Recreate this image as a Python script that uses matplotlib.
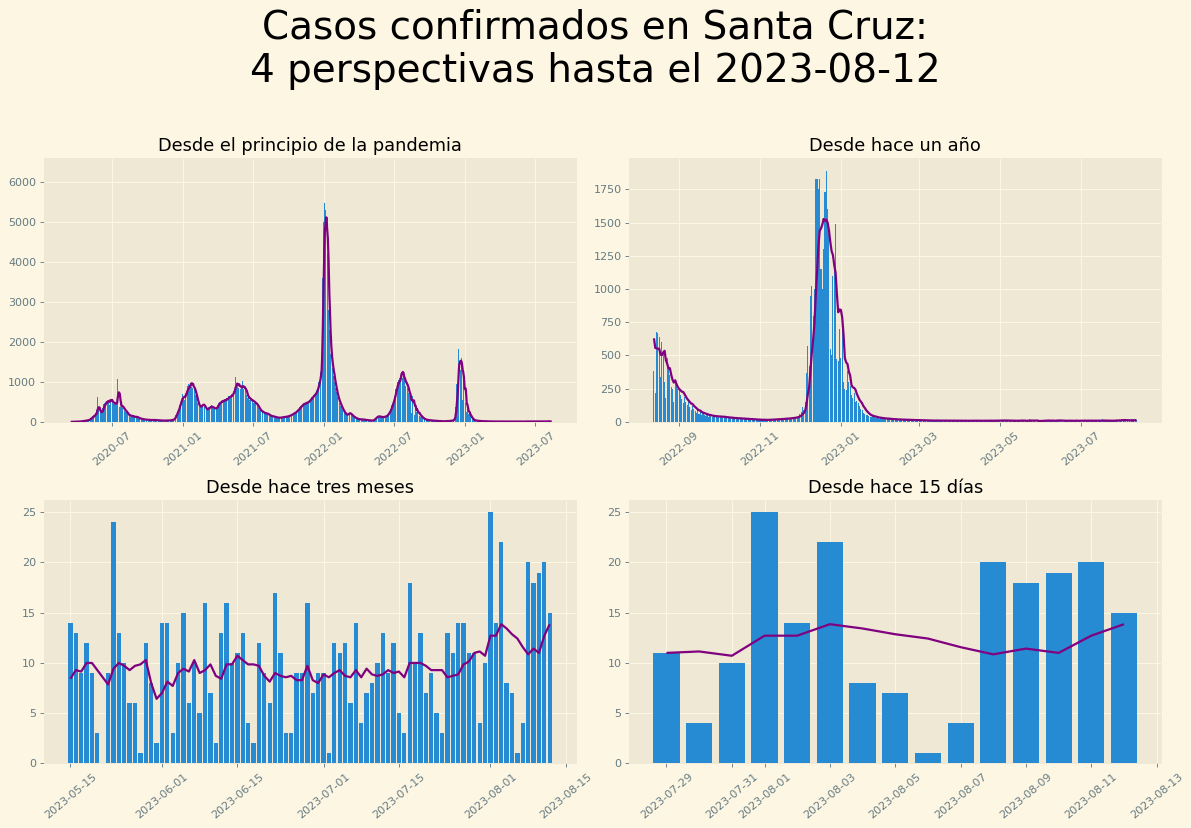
import pandas as pd
import matplotlib
matplotlib.use('Agg')
import matplotlib.pyplot as plt

plt.style.use('Solarize_Light2')

# daily confirmed cases, Santa Cruz, from 2020-03-10 to 2023-08-12
START = '2020-03-10'
END = '2023-08-12'

cases_2020 = [
    1, 0, 0, 0, 2, 0, 1, 3, 0, 2, 1, 4, 2, 3, 5, 2, 6, 4, 8, 5, 3, 7,  # mar
    6, 9, 5, 12, 8, 10, 14, 7, 11, 15, 18, 9, 20, 16, 22, 25, 14, 28, 30, 19,
    26, 35, 32, 24, 38, 42, 30, 45, 50, 36,  # apr
    50, 65, 45, 75, 90, 85, 100, 115, 90, 125, 140, 110, 150, 165, 130, 180, 200, 155, 220, 240,
    260, 300, 250, 620, 330, 400, 380, 290, 240, 220, 260,  # may
    230, 210, 250, 280, 300, 350, 260, 420, 450, 380, 480, 520, 400, 390, 550, 610, 470, 500, 460, 540,
    520, 480, 560, 430, 600, 650, 540, 480, 520, 560,  # jun
    500, 470, 430, 520, 440, 480, 460, 420, 510, 450, 470, 440, 500, 520, 1080, 950, 700, 980, 420, 380,
    400, 450, 380, 420, 360, 410, 390, 350, 380, 330, 300,  # jul
    320, 280, 260, 300, 240, 270, 250, 220, 180, 200, 190, 160, 170, 150, 180, 140, 160, 130, 170, 150,
    140, 160, 120, 130, 150, 110, 140, 120, 130, 110, 125,  # aug
    130, 140, 100, 120, 95, 110, 90, 80, 105, 85, 75, 90, 70, 80, 65, 70, 60, 75, 55, 65,
    70, 50, 60, 55, 65, 45, 50, 60, 48, 55,  # sep
    52, 45, 58, 40, 48, 55, 42, 50, 38, 46, 52, 44, 50, 40, 45, 55, 48, 42, 50, 38,
    45, 40, 48, 35, 42, 46, 38, 44, 36, 40, 42,  # oct
    38, 30, 35, 28, 40, 32, 36, 30, 34, 28, 38, 30, 35, 26, 32, 36, 30, 34, 28, 32,
    35, 30, 38, 32, 36, 40, 35, 42, 38, 45,  # nov
    45, 50, 42, 55, 60, 52, 70, 80, 95, 110, 130, 160, 150, 190, 240, 260, 230, 300, 340, 310,
    380, 420, 460, 520, 480, 550, 600, 520, 640, 700, 620,  # dec
]

cases_2021 = [
    560, 620, 680, 540, 700, 650, 720, 780, 690, 820, 850, 900, 780, 880, 950, 820, 900, 1000, 870, 940,
    1200, 880, 950, 900, 860, 920, 850, 880, 800, 840, 760,  # jan
    720, 680, 600, 650, 560, 520, 480, 450, 420, 400, 380, 360, 400, 350, 390, 420, 380, 440, 460, 410,
    430, 450, 400, 420, 380, 360, 340, 320,  # feb
    300, 320, 290, 330, 310, 340, 360, 320, 380, 350, 400, 370, 390, 360, 410, 380, 350, 340, 370, 330,
    360, 320, 350, 340, 310, 360, 330, 350, 380, 400, 420,  # mar
    440, 460, 480, 430, 500, 520, 470, 490, 530, 510, 550, 480, 520, 560, 500, 540, 580, 520, 560, 530,
    570, 540, 590, 560, 620, 580, 600, 640, 610, 650,  # apr
    620, 660, 600, 680, 640, 700, 620, 680, 720, 740, 780, 820, 760, 840, 900, 1120, 860, 920, 880, 1150,
    880, 840, 920, 860, 1080, 830, 900, 860, 820, 880, 840,  # may
    900, 860, 1030, 840, 880, 820, 860, 800, 880, 840, 800, 760, 700, 680, 650, 600, 620, 580, 640, 600,
    560, 600, 540, 580, 520, 560, 500, 540, 520, 560,  # jun
    500, 480, 520, 460, 490, 450, 480, 440, 460, 420, 430, 400, 380, 360, 340, 320, 300, 310, 280, 290,
    260, 270, 250, 240, 260, 230, 240, 220, 230, 210, 220,  # jul
    210, 220, 200, 230, 190, 210, 200, 180, 190, 170, 160, 170, 150, 160, 140, 150, 145, 135, 150, 130,
    140, 125, 135, 120, 130, 115, 125, 110, 120, 105, 115,  # aug
    100, 110, 105, 95, 115, 100, 110, 105, 100, 115, 110, 120, 105, 115, 125, 110, 120, 130, 115, 125,
    135, 120, 130, 140, 125, 135, 145, 130, 140, 150,  # sep
    145, 160, 150, 170, 165, 180, 175, 190, 185, 200, 195, 210, 220, 205, 230, 240, 225, 250, 260, 245,
    270, 285, 300, 290, 310, 330, 320, 350, 370, 360, 400,  # oct
    380, 410, 400, 430, 420, 450, 440, 460, 430, 470, 450, 480, 460, 500, 470, 490, 460, 500, 520, 480,
    510, 540, 520, 560, 540, 580, 600, 570, 620, 600,  # nov
    620, 650, 640, 680, 660, 700, 690, 720, 700, 740, 760, 800, 780, 850, 880, 940, 1000, 980, 1050, 1100,
    1150, 1250, 1350, 1500, 1800, 2600, 3600, 4300, 4500, 5000, 5200,  # dec
]

cases_2022 = [
    5480, 5100, 4400, 5300, 4900, 5450, 5000, 3800, 4200, 3500, 3200, 2800, 2400, 2300, 2000, 1800, 1700, 1600, 1500, 1300,
    1500, 1350, 1250, 1150, 1150, 1050, 1000, 950, 900, 850, 780,  # jan
    750, 700, 650, 620, 580, 560, 520, 500, 480, 460, 430, 400, 380, 360, 340, 320, 300, 280, 260, 250,
    230, 220, 200, 210, 190, 180, 170, 160,  # feb
    170, 190, 220, 240, 210, 230, 200, 220, 190, 210, 180, 170, 160, 150, 140, 130, 120, 125, 115, 110,
    100, 95, 90, 85, 80, 78, 75, 70, 72, 65, 62,  # mar
    60, 70, 65, 58, 62, 68, 55, 60, 65, 58, 52, 60, 55, 50, 58, 50, 45, 48, 42, 46,
    40, 44, 38, 42, 36, 40, 35, 38, 34, 36,  # apr
    32, 30, 35, 28, 34, 40, 45, 50, 60, 70, 80, 90, 100, 110, 120, 130, 140, 120, 150, 135,
    145, 130, 140, 125, 135, 120, 130, 115, 125, 110, 120,  # may
    115, 125, 130, 120, 140, 135, 130, 145, 140, 150, 160, 180, 170, 200, 220, 210, 250, 260, 280, 300,
    320, 350, 380, 420, 400, 460, 500, 540, 520, 600,  # jun
    650, 700, 760, 820, 800, 880, 900, 950, 1000, 980, 1000, 1050, 950, 1100, 1100, 1000, 1150, 1300, 1600, 1200,
    1150, 1100, 1250, 1050, 1200, 1000, 1100, 950, 1000, 900, 950,  # jul
    1000, 950, 900, 850, 800, 760, 720, 700, 680, 660, 640, 620, 380, 216, 674, 670, 640, 340, 600, 520,
    300, 180, 480, 400, 350, 260, 250, 150, 300, 280, 250,  # aug
    240, 200, 170, 140, 190, 150, 130, 160, 110, 90, 120, 100, 80, 70, 90, 60, 75, 50, 65, 55,
    45, 60, 40, 50, 45, 38, 42, 35, 48, 40,  # sep
    38, 42, 35, 30, 40, 36, 28, 34, 30, 26, 32, 28, 24, 30, 26, 22, 28, 24, 20, 26,
    22, 18, 24, 20, 16, 22, 18, 15, 20, 14, 18,  # oct
    14, 16, 12, 18, 15, 13, 17, 20, 16, 14, 22, 18, 20, 24, 21, 18, 23, 26, 22, 25,
    28, 24, 30, 27, 32, 35, 30, 40, 38, 45,  # nov
    60, 75, 110, 90, 150, 370, 570, 420, 950, 1020, 800, 1000, 1830, 1830, 1750, 1830, 1150, 1000, 1300, 1730,
    1890, 1600, 1420, 550, 500, 1100, 1200, 1490, 470, 460, 700,  # dec
]

cases_2023 = [
    480, 700, 300, 250, 240, 380, 300, 270, 200, 180, 220, 150, 160, 140, 120, 100, 90, 70, 60, 50,
    55, 45, 40, 38, 42, 35, 30, 32, 28, 25, 30,  # jan
    28, 24, 26, 20, 22, 25, 18, 20, 22, 16, 18, 20, 15, 17, 19, 14, 16, 18, 13, 15,
    17, 12, 14, 16, 11, 13, 15, 12,  # feb
    12, 10, 14, 9, 11, 13, 8, 10, 12, 9, 11, 7, 10, 12, 8, 10, 9, 11, 7, 9,
    12, 8, 10, 9, 11, 8, 10, 7, 9, 11, 8,  # mar
    9, 7, 10, 8, 11, 6, 9, 10, 7, 12, 8, 9, 6, 10, 8, 11, 7, 9, 12, 8,
    10, 6, 9, 11, 7, 10, 8, 12, 9, 10,  # apr
    11, 9, 13, 8, 10, 12, 7, 11, 7, 10, 6, 9, 8, 5, 14, 13, 9, 12, 9, 3,
    0, 9, 24, 13, 10, 6, 6, 1, 12, 8, 2,  # may
    14, 14, 3, 10, 15, 6, 10, 5, 16, 7, 2, 13, 16, 10, 11, 13, 4, 2, 12, 9,
    6, 17, 11, 3, 3, 9, 9, 16, 7, 9,  # jun
    9, 1, 12, 11, 12, 6, 14, 4, 7, 8, 10, 13, 9, 12, 5, 3, 18, 10, 13, 7,
    9, 5, 3, 13, 11, 14, 14, 11, 11, 4, 10,  # jul
    25, 14, 22, 8, 7, 1, 4, 20, 18, 19, 20, 15,  # aug
]

PANEL_TITLES = ['Desde el principio de la pandemia', 'Desde hace un año',
                'Desde hace tres meses', 'Desde hace 15 días']
PANEL_DAYS = [None, 365, 90, 15]

values = cases_2020 + cases_2021 + cases_2022 + cases_2023
daily = pd.Series(values, index=pd.date_range(START, periods=len(values), freq='D'))
assert daily.index[-1] == pd.Timestamp(END), daily.index[-1]
avg7 = daily.rolling(7).mean()

DPI = 80
fig, axs = plt.subplots(2, 2, figsize=(1191 / DPI, 828 / DPI), dpi=DPI)
for ax, title, n in zip(axs.flat, PANEL_TITLES, PANEL_DAYS):
    d = daily if n is None else daily.iloc[-n:]
    m = avg7.loc[d.index]
    ax.bar(d.index, d.values, color='#268BD2')
    ax.plot(m.index, m.values, color='purple', linewidth=2)
    ax.set_title(title)
    ax.tick_params(axis='x', labelrotation=40)
axs[0, 0].set_ylim(0, 6600)

fig.suptitle(f'Casos confirmados en Santa Cruz:\n4 perspectivas hasta el {END}', fontsize=35, y=0.99)
fig.subplots_adjust(left=0.037, right=0.975, top=0.809, bottom=0.078, wspace=0.1, hspace=0.295)
fig.savefig('out.png', dpi=DPI)
